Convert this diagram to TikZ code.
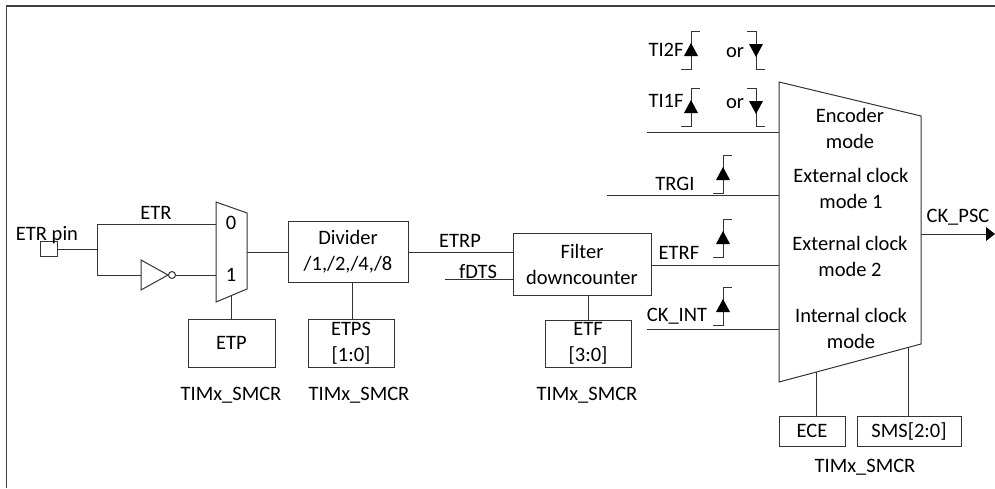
\documentclass[tikz,border=0pt]{standalone}
\usepackage{fontspec}
\setmainfont{Carlito}
\usetikzlibrary{calc}
\definecolor{ln}{gray}{0.2}
\tikzset{
  x=1pt,y=-1pt,
  wire/.style={draw=ln,line width=1pt},
  boxn/.style={draw=ln,line width=1pt,inner sep=0pt,align=center,font=\fontsize{20.5}{26}\selectfont},
  lbl/.style={inner sep=0pt,font=\fontsize{20.5}{26}\selectfont,text height=13pt,text depth=0pt},
  two/.style={inner sep=0pt,align=center,font=\fontsize{20.5}{26}\selectfont},
}
\newcommand{\riseedge}[2]{%
  \draw[wire] (#1+9,#2) -- (#1,#2) -- (#1,#2+38) -- (#1-10,#2+38);
  \fill[black] (#1,#2+12) -- (#1+7,#2+25) -- (#1-7,#2+25) -- cycle;}
\newcommand{\falledge}[2]{%
  \draw[wire] (#1-9,#2) -- (#1,#2) -- (#1,#2+38) -- (#1+9,#2+38);
  \fill[black] (#1,#2+26) -- (#1+7,#2+13) -- (#1-7,#2+13) -- cycle;}
\begin{document}
\begin{tikzpicture}
\useasboundingbox (0,0) rectangle (995,488);
% frame
\draw[draw=black!75,line width=1.3pt] (6.5,488) -- (6.5,6) -- (995,6);

% named points of the two trapezoids
\coordinate (mTL) at (216,202);
\coordinate (mTR) at (247,213);
\coordinate (mBR) at (247,289);
\coordinate (mBL) at (216,302);
\coordinate (tTL) at (779,82);
\coordinate (tTR) at (921,116);
\coordinate (tBR) at (921,344);
\coordinate (tBL) at (779,382);
\draw[wire] (mTL)--(mTR)--(mBR)--(mBL)--cycle;
\draw[wire] (tTL)--(tTR)--(tBR)--(tBL)--cycle;

% boxes
\node[boxn,minimum width=17pt,minimum height=15pt] (pin) at (48.5,248.5) {};
\node[boxn,minimum width=87pt,minimum height=48pt] (etp) at (231.5,343) {ETP};
\node[boxn,minimum width=120pt,minimum height=61pt] (div) at (348,251.5) {Divider\\/1,/2,/4,/8};
\node[boxn,minimum width=86pt,minimum height=48pt] (etps) at (351,343) {ETPS\\{[1:0]}};
\node[boxn,minimum width=138pt,minimum height=62pt] (filt) at (582,264) {Filter\\downcounter};
\node[boxn,minimum width=86pt,minimum height=47pt] (etf) at (588,343.5) {ETF\\{[3:0]}};
\node[boxn,minimum width=66pt,minimum height=30pt] (ece) at (812,431) {ECE};
\node[boxn,minimum width=104pt,minimum height=30pt] (sms) at (909,431) {SMS[2:0]};

% inverter
\coordinate (invL) at (141,275);
\coordinate (invT) at (168,275);
\draw[wire,fill=white] (141,260) -- (invT) -- (141,290) -- cycle;
\node[draw=ln,line width=1pt,circle,inner sep=0pt,minimum size=7pt] (bub) at (172,275) {};

% left part connectors
\coordinate (jn) at (97,249);
\coordinate (ju) at (97,224);
\coordinate (jd) at (97,275);
\draw[wire] (pin.east |- jn) -- (jn);
\draw[wire] (ju) -- (jd);
\draw[wire] (ju) -- (216,224);
\draw[wire] (jd) -- (invL);
\draw[wire] (bub.east) -- (216,275);
\draw[wire] (231.5,296) -- (etp.north);
\draw[wire] (247,252) -- (div.west |- 247,252);
\draw[wire] (352,282) -- (352,319);
\draw[wire] (div.east |- 408,252) -- (filt.west |- 408,252);
\coordinate (fd) at (445,279);
\draw[wire] (fd) -- (filt.west |- fd);
\draw[wire] (588,295) -- (588,320);

% inputs of the big mux
\coordinate (ti) at (647,132);
\coordinate (trgi) at (607,195);
\coordinate (ck) at (647,329);
\draw[wire] (ti) -- (779,132);
\draw[wire] (trgi) -- (779,195);
\draw[wire] (filt.east |- 651,265) -- (779,265);
\draw[wire] (ck) -- (779,329);
\draw[wire] (816,372) -- (816,416);
\draw[wire] (908,348) -- (908,416);

% output
\coordinate (out) at (995,234);
\draw[wire] (921,234) -- (986,234);
\fill[black] (out) -- (986,227) -- (986,241) -- cycle;

% edge symbols
\riseedge{691}{31}
\falledge{756}{31}
\riseedge{691}{88}
\falledge{756}{88}
\riseedge{723}{155}
\riseedge{723}{219}
\riseedge{723}{287}

% labels
\node[lbl] (lETR) at (156,213) {ETR};
\node[lbl] (lpin) at (47,233.5) {ETR pin};
\node[lbl] (l0) at (231,223) {0};
\node[lbl] (l1) at (231,275) {1};
\node[lbl] (t1) at (231,394) {TIMx\_SMCR};
\node[lbl] (t2) at (359,394) {TIMx\_SMCR};
\node[lbl] (t3) at (587,394) {TIMx\_SMCR};
\node[lbl] (t4) at (865,466) {TIMx\_SMCR};
\node[lbl] (lp) at (460,241) {ETRP};
\node[lbl] (lf) at (478,272) {fDTS};
\node[lbl] (lrf) at (679,253) {ETRF};
\node[lbl] (ltr) at (675,184) {TRGI};
\node[lbl] (lck) at (677,315) {CK\_INT};
\node[lbl] (l2f) at (666,50) {TI2F};
\node[lbl] (l1f) at (666,101) {TI1F};
\node[lbl] (or1) at (735,51) {or};
\node[lbl] (or2) at (735,102) {or};
\node[lbl] (lpsc) at (958,216) {CK\_PSC};
\node[two] (m1) at (850,128) {Encoder\\mode};
\node[two] (m2) at (851,188) {External clock\\mode 1};
\node[two] (m3) at (850,256) {External clock\\mode 2};
\node[two] (m4) at (851,328) {Internal clock\\mode};
\end{tikzpicture}
\end{document}
